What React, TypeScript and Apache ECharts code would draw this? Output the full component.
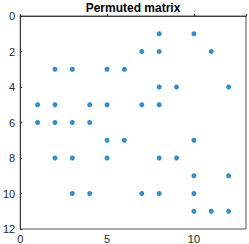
import React, { useEffect, useRef } from "react";
import * as echarts from "echarts";

const colIdx: number[] = [8, 10, 7, 8, 11, 2, 3, 5, 6, 8, 9, 12, 1, 2, 4, 5, 7, 8, 1, 2, 3, 4, 5, 6, 10, 2, 3, 5, 8, 9, 10, 12, 3, 4, 7, 8, 10, 10, 11, 12];
const rowIdx: number[] = [1, 1, 2, 2, 2, 3, 3, 3, 3, 4, 4, 4, 5, 5, 5, 5, 5, 5, 6, 6, 6, 6, 7, 7, 7, 8, 8, 8, 8, 8, 9, 9, 10, 10, 10, 10, 10, 11, 11, 11];
const xTicks: number[] = [0, 5, 10];
const yTicks: number[] = [0, 2, 4, 6, 8, 10, 12];
const titleText = "Permuted matrix";

export default function App() {
  const ref = useRef<HTMLDivElement>(null);
  useEffect(() => {
    if (!ref.current) return;
    const chart = echarts.init(ref.current, undefined, { renderer: "svg" });
    const font = "Liberation Sans, Arial, sans-serif";
    const axisLabel = { color: "#262626", fontSize: 11, fontFamily: font };
    chart.setOption({
      animation: false,
      title: {
        text: titleText,
        left: 133,
        top: 1,
        padding: 0,
        textAlign: "center",
        textStyle: { fontSize: 12, fontWeight: "bold", color: "#000", fontFamily: font, lineHeight: 13 },
      },
      grid: {
        left: 18,
        top: 16,
        right: 1,
        bottom: 15,
        show: true,
        borderColor: "#262626",
        borderWidth: 0.8,
        backgroundColor: "#fff",
      },
      xAxis: {
        type: "value",
        min: 0,
        max: 13,
        interval: 5,
        splitLine: { show: false },
        axisLine: { show: true, lineStyle: { color: "#262626", width: 0.8 } },
        axisTick: { show: true, inside: true, length: 2, lineStyle: { color: "#262626" } },
        axisLabel: {
          ...axisLabel,
          margin: 4,
          formatter: (v: number) => (xTicks.includes(v) ? String(v) : ""),
        },
      },
      yAxis: {
        type: "value",
        inverse: true,
        min: 0,
        max: 12,
        interval: 2,
        splitLine: { show: false },
        axisLine: { show: true, lineStyle: { color: "#262626", width: 0.8 } },
        axisTick: { show: true, inside: true, length: 2, lineStyle: { color: "#262626" } },
        axisLabel: {
          ...axisLabel,
          margin: 5,
          formatter: (v: number) => (yTicks.includes(v) ? String(v) : ""),
        },
      },
      series: [
        {
          type: "scatter",
          symbol: "circle",
          symbolSize: 5,
          itemStyle: { color: "#0072BD" },
          data: colIdx.map((c, i) => [c, rowIdx[i]]),
        },
      ],
    });
    return () => chart.dispose();
  }, []);
  return (
    <div
      ref={ref}
      style={{ position: "fixed", left: 0, top: 0, width: 249, height: 244, background: "#fff" }}
    />
  );
}
